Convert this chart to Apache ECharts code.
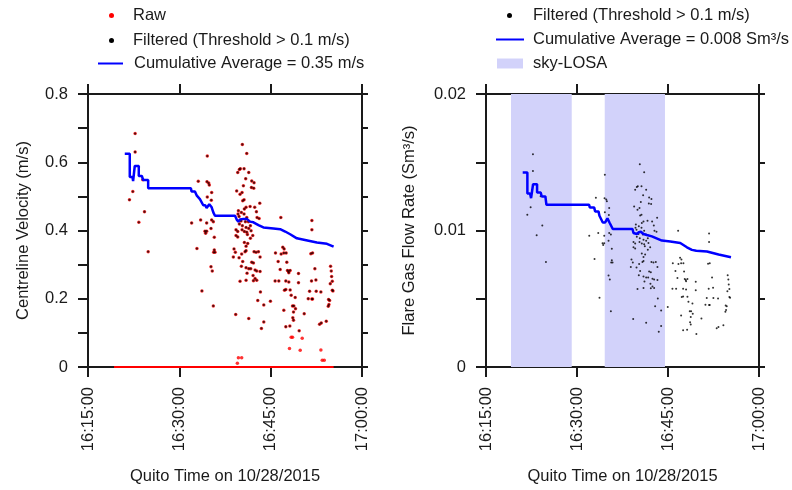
<!DOCTYPE html>
<html>
<head>
<meta charset="utf-8">
<script src="https://cdn.jsdelivr.net/npm/echarts@6/dist/echarts.min.js"></script>
<style>
  html, body { margin: 0; padding: 0; background: #fff; }
  #chart { width: 792px; height: 490px; }
</style>
</head>
<body>
<div id="chart"></div>
<script>
// time is in minutes after 16:00 (Quito time, 10/28/2015)
const xTicks = [15, 30, 45, 60];

// raw centreline velocity samples (m/s)
const rawTime = [
  22.74, 22.74, 24.00, 22.36, 21.81, 24.28, 23.35, 24.88,
  34.59, 33.11, 34.54, 34.82, 34.92, 35.31, 34.59, 35.25, 32.02, 33.50, 34.49, 35.31,
  35.58, 35.20, 34.21, 34.49, 34.32, 35.74, 32.89, 35.74, 35.86, 35.64, 35.20, 35.41,
  33.71, 35.58,
  40.35, 41.07, 40.02, 40.63, 39.86, 41.40, 39.59, 40.90, 41.89, 42.27, 40.52, 41.84,
  42.22, 39.42, 39.97, 40.30, 40.63, 40.41, 41.62, 40.96, 43.21, 42.38, 42.66, 39.70,
  40.19, 40.68, 39.64, 40.63, 41.07, 41.34, 39.81, 40.13, 40.85, 39.86, 40.35, 40.96,
  41.40, 41.67, 39.31, 39.59, 40.30, 40.68, 41.07, 41.78, 41.18, 42.06, 42.77, 43.10,
  40.68, 41.23, 40.96, 41.67, 39.31, 39.59, 38.98, 39.20, 40.24, 40.79, 40.96, 42.27,
  42.60, 42.99, 39.81, 38.87, 40.41, 43.26, 41.89, 42.17, 40.19, 40.96, 41.40, 41.73,
  43.26, 41.12, 42.44, 42.71, 42.11, 42.44, 42.71, 42.17, 40.96, 39.97, 43.32, 44.96,
  42.88, 43.87, 39.26, 41.40, 43.48, 43.87, 39.70, 40.24, 39.53,
  46.67, 45.79, 46.72, 47.16, 47.54, 46.99, 47.21, 46.23, 47.65, 47.76, 47.93, 48.20,
  46.56, 47.98, 45.73, 46.34, 47.49, 47.98, 49.57, 49.57, 47.49, 47.27, 48.37, 49.03,
  48.20, 47.16, 48.59, 48.81, 48.75, 49.08, 50.51, 48.64, 48.75, 48.15, 47.49, 49.68,
  48.37, 48.59, 50.18, 48.09, 49.85,
  51.77, 51.77, 51.60, 51.88, 52.26, 52.43, 51.71, 51.39, 52.48, 53.25, 51.17, 51.77,
  51.88, 54.51, 54.68, 53.31, 53.03, 54.13, 54.57, 54.46, 54.84, 54.95, 55.01, 55.12,
  54.79, 55.12, 55.23, 53.25, 53.47, 53.80
];
const rawVelocity = [
  0.684, 0.630, 0.549, 0.514, 0.490, 0.455, 0.424, 0.338,
  0.618, 0.544, 0.543, 0.539, 0.533, 0.511, 0.498, 0.489, 0.422, 0.431, 0.422, 0.431,
  0.426, 0.406, 0.398, 0.398, 0.392, 0.380, 0.347, 0.343, 0.336, 0.336, 0.294, 0.281,
  0.223, 0.179,
  0.652, 0.626, 0.581, 0.581, 0.579, 0.570, 0.570, 0.552, 0.545, 0.540, 0.531, 0.526,
  0.524, 0.516, 0.506, 0.511, 0.490, 0.487, 0.470, 0.468, 0.480, 0.468, 0.455, 0.458,
  0.453, 0.463, 0.448, 0.448, 0.438, 0.426, 0.441, 0.428, 0.426, 0.419, 0.414, 0.409,
  0.406, 0.414, 0.402, 0.397, 0.402, 0.397, 0.395, 0.399, 0.388, 0.385, 0.438, 0.435,
  0.365, 0.362, 0.354, 0.377, 0.385, 0.381, 0.346, 0.336, 0.331, 0.338, 0.341, 0.338,
  0.336, 0.338, 0.320, 0.322, 0.309, 0.322, 0.307, 0.305, 0.295, 0.291, 0.288, 0.288,
  0.280, 0.275, 0.284, 0.281, 0.268, 0.259, 0.254, 0.253, 0.254, 0.251, 0.220, 0.193,
  0.195, 0.182, 0.154, 0.142, 0.113, 0.132, 0.027, 0.027, 0.011,
  0.438, 0.334, 0.331, 0.334, 0.334, 0.351, 0.346, 0.309, 0.307, 0.283, 0.280, 0.283,
  0.286, 0.276, 0.252, 0.252, 0.252, 0.249, 0.274, 0.247, 0.227, 0.225, 0.210, 0.204,
  0.226, 0.166, 0.179, 0.179, 0.161, 0.171, 0.156, 0.144, 0.137, 0.120, 0.118, 0.106,
  0.087, 0.087, 0.084, 0.054, 0.049,
  0.429, 0.402, 0.332, 0.334, 0.288, 0.255, 0.252, 0.222, 0.222, 0.220, 0.200, 0.199,
  0.199, 0.198, 0.195, 0.129, 0.125, 0.134, 0.183, 0.178, 0.295, 0.281, 0.265, 0.251,
  0.244, 0.225, 0.223, 0.050, 0.020, 0.020
];
// raw readings of 0 m/s run through the whole sampling window
const rawZeroSpan = [19.28, 55.34];

const threshold = 0.1; // m/s
const flowPerVelocity = 0.02278; // Sm3/s per m/s (ratio between the two panels)

// cumulative average of centreline velocity (m/s)
const avgVelTime = [21.04, 21.86, 21.86, 22.30, 22.41, 22.57, 22.68, 23.34, 23.34, 23.84, 24.06, 24.88,
  24.88, 31.90, 32.01, 32.56, 32.84, 33.11, 33.38, 33.66, 33.93, 34.26, 34.48, 34.92, 35.31, 35.58,
  35.85, 39.15, 39.42, 39.70, 39.97, 40.52, 40.79, 41.07, 41.62, 42.17, 42.99, 43.81, 45.46, 46.56,
  47.38, 48.20, 49.30, 49.57, 51.22, 52.59, 54.24, 55.34];
const avgVelocity = [0.625, 0.625, 0.557, 0.557, 0.545, 0.545, 0.589, 0.589, 0.560, 0.560, 0.548, 0.548,
  0.524, 0.524, 0.514, 0.514, 0.503, 0.503, 0.492, 0.492, 0.474, 0.474, 0.466, 0.477, 0.468, 0.453,
  0.443, 0.443, 0.432, 0.426, 0.432, 0.434, 0.438, 0.434, 0.426, 0.424, 0.416, 0.409, 0.406, 0.404,
  0.397, 0.389, 0.377, 0.372, 0.370, 0.365, 0.361, 0.353];

// cumulative average of flare gas flow rate (Sm3/s)
const avgFlowTime = [21.05, 21.82, 21.82, 22.26, 22.43, 22.59, 22.76, 23.42, 23.42, 24.02, 24.19, 24.79,
  24.96, 32.00, 32.11, 32.82, 32.99, 33.54, 33.70, 33.98, 34.25, 34.64, 35.02, 35.35, 35.90, 39.15,
  39.31, 39.86, 40.19, 40.52, 40.96, 41.52, 42.34, 43.99, 45.37, 47.02, 48.12, 48.94, 49.66, 51.42,
  53.34, 55.38];
const avgFlow = [0.01424, 0.01424, 0.01271, 0.01271, 0.01237, 0.01237, 0.01339, 0.01339, 0.01278, 0.01278,
  0.01249, 0.01249, 0.01188, 0.01188, 0.01169, 0.01169, 0.01140, 0.01140, 0.01108, 0.01108, 0.01059,
  0.01059, 0.01089, 0.01059, 0.01011, 0.01011, 0.00982, 0.00974, 0.00987, 0.00991, 0.00974, 0.00967,
  0.00957, 0.00926, 0.00919, 0.00909, 0.00877, 0.00858, 0.00851, 0.00846, 0.00824, 0.00804];

// sky-LOSA measurement windows
const skyLosaStart = [19.12, 34.57];
const skyLosaEnd = [29.13, 44.50];

const legendNames = {
  raw: 'Raw',
  filtered: 'Filtered (Threshold > 0.1 m/s)',
  avgVel: 'Cumulative Average = 0.35 m/s',
  avgFlow: 'Cumulative Average = 0.008 Sm³/s',
  losa: 'sky-LOSA'
};

function zip(a, b) {
  let out = [];
  for (var i = 0; i < a.length; i++) out.push([a[i], b[i]]);
  return out;
}

const rawPoints = zip(rawTime, rawVelocity);
const filteredPoints = rawPoints.filter(p => p[1] > threshold);
const flowPoints = filteredPoints.map(p => [p[0], p[1] * flowPerVelocity]);

const FONT = 'Liberation Sans, Arial, sans-serif';
const INK = '#1a1a1a';
const FS = 16.5;

function timeLabel(v) {
  let h = 16 + Math.floor(v / 60);
  let m = Math.round(v % 60);
  return h + ':' + (m < 10 ? '0' + m : m) + ':00';
}

function xAxes(gridIndex) {
  let base = {
    gridIndex: gridIndex,
    type: 'value',
    min: xTicks[0],
    max: xTicks[xTicks.length - 1],
    interval: 15,
    splitLine: { show: false },
    axisLine: { onZero: false, lineStyle: { color: INK, width: 2 } },
    axisTick: { length: 10, lineStyle: { color: INK, width: 2 } }
  };
  return [
    Object.assign({}, base, {
      position: 'bottom',
      name: 'Quito Time on 10/28/2015',
      nameLocation: 'middle',
      nameGap: 101,
      nameTextStyle: { fontFamily: FONT, fontSize: FS, color: INK },
      axisLabel: { rotate: 90, margin: 20, fontFamily: FONT, fontSize: FS, color: INK, formatter: timeLabel }
    }),
    Object.assign({}, base, { position: 'top', axisLabel: { show: false } })
  ];
}

function yAxes(gridIndex, max, interval, name, nameGap, labelFn) {
  let base = {
    gridIndex: gridIndex,
    type: 'value',
    min: 0,
    max: max,
    interval: interval,
    splitLine: { show: false },
    axisLine: { show: true, onZero: false, lineStyle: { color: INK, width: 2 } },
    axisTick: { show: true, length: 10, lineStyle: { color: INK, width: 2 } }
  };
  return [
    Object.assign({}, base, {
      position: 'left',
      name: name,
      nameLocation: 'middle',
      nameGap: nameGap,
      nameTextStyle: { fontFamily: FONT, fontSize: FS, color: INK },
      axisLabel: { margin: 20, fontFamily: FONT, fontSize: FS, color: INK, formatter: labelFn }
    }),
    Object.assign({}, base, {
      position: 'right',
      axisTick: { show: true, length: 6, lineStyle: { color: INK, width: 2 } },
      axisLabel: { show: false }
    })
  ];
}

const legendText = { fontFamily: FONT, fontSize: FS, color: INK };

const option = {
  animation: false,
  backgroundColor: '#fff',
  grid: [
    { left: 88, top: 94, width: 274, height: 275 },
    { left: 486, top: 94, width: 273, height: 275 }
  ],
  legend: [
    {
      orient: 'vertical', left: 109, top: 7, padding: 0, itemGap: 8,
      itemWidth: 5, itemHeight: 5, selectedMode: false,
      textStyle: Object.assign({ padding: [0, 0, 0, 14] }, legendText),
      data: [
        { name: legendNames.raw, icon: 'circle', itemStyle: { color: '#ff0000', opacity: 1 } },
        { name: legendNames.filtered, icon: 'circle', itemStyle: { color: '#000', opacity: 1 } }
      ]
    },
    {
      orient: 'vertical', left: 98, top: 55, padding: 0,
      itemWidth: 25, itemHeight: 2, selectedMode: false,
      textStyle: Object.assign({ padding: [0, 0, 0, 6] }, legendText),
      data: [{ name: legendNames.avgVel, icon: 'rect', itemStyle: { color: '#0000ff' } }]
    },
    {
      orient: 'vertical', left: 507, top: 7, padding: 0,
      itemWidth: 5, itemHeight: 5, selectedMode: false,
      textStyle: Object.assign({ padding: [0, 0, 0, 16] }, legendText),
      data: [{ name: legendNames.filtered, icon: 'circle', itemStyle: { color: '#000', opacity: 1 } }]
    },
    {
      orient: 'vertical', left: 496, top: 31, padding: 0,
      itemWidth: 28, itemHeight: 2, selectedMode: false,
      textStyle: Object.assign({ padding: [0, 0, 0, 4] }, legendText),
      data: [{ name: legendNames.avgFlow, icon: 'rect', itemStyle: { color: '#0000ff' } }]
    },
    {
      orient: 'vertical', left: 497, top: 55, padding: 0,
      itemWidth: 26, itemHeight: 10, selectedMode: false,
      textStyle: Object.assign({ padding: [0, 0, 0, 5] }, legendText),
      data: [{ name: legendNames.losa, icon: 'rect', itemStyle: { color: '#d2d2fa' } }]
    }
  ],
  xAxis: xAxes(0).concat(xAxes(1)),
  yAxis: yAxes(0, 0.8, 0.1, 'Centreline Velocity (m/s)', 56, function (v) {
    if (Math.round(v * 10) % 2 !== 0) return '';
    return v === 0 ? '0' : v.toFixed(1);
  }).concat(yAxes(1, 0.02, 0.005, 'Flare Gas Flow Rate (Sm³/s)', 68, function (v) {
    if (Math.round(v * 1000) % 10 !== 0) return '';
    return v === 0 ? '0' : v.toFixed(2);
  })),
  series: [
    {
      name: legendNames.raw, type: 'line', xAxisIndex: 0, yAxisIndex: 0,
      data: [[rawZeroSpan[0], 0], [rawZeroSpan[1], 0]],
      symbol: 'none', lineStyle: { color: '#ff0000', width: 2 }, z: 3
    },
    {
      name: legendNames.raw, type: 'scatter', xAxisIndex: 0, yAxisIndex: 0,
      data: rawPoints, symbolSize: 3.5, itemStyle: { color: '#ff0000' }, z: 3
    },
    {
      name: legendNames.filtered, type: 'scatter', xAxisIndex: 0, yAxisIndex: 0,
      data: filteredPoints, symbolSize: 2.3, itemStyle: { color: '#000', opacity: 0.7 }, z: 4
    },
    {
      name: legendNames.avgVel, type: 'line', xAxisIndex: 0, yAxisIndex: 0,
      data: zip(avgVelTime, avgVelocity), symbol: 'none',
      lineStyle: { color: '#0000ff', width: 2.5 }, itemStyle: { color: '#0000ff' }, z: 5
    },
    {
      name: legendNames.losa, type: 'line', xAxisIndex: 2, yAxisIndex: 2,
      data: [], symbol: 'none', z: 1,
      itemStyle: { color: '#d2d2fa' },
      markArea: {
        silent: true,
        itemStyle: { color: '#d2d2fa' },
        data: skyLosaStart.map((s, i) => [{ xAxis: s }, { xAxis: skyLosaEnd[i] }])
      }
    },
    {
      name: legendNames.filtered, type: 'scatter', xAxisIndex: 2, yAxisIndex: 2,
      data: flowPoints, symbolSize: 2, itemStyle: { color: '#000', opacity: 0.8 }, z: 4
    },
    {
      name: legendNames.avgFlow, type: 'line', xAxisIndex: 2, yAxisIndex: 2,
      data: zip(avgFlowTime, avgFlow), symbol: 'none',
      lineStyle: { color: '#0000ff', width: 2.5 }, itemStyle: { color: '#0000ff' }, z: 5
    }
  ]
};

const chart = echarts.init(document.getElementById('chart'), null, { renderer: 'canvas' });
chart.setOption(option);
</script>
</body>
</html>
